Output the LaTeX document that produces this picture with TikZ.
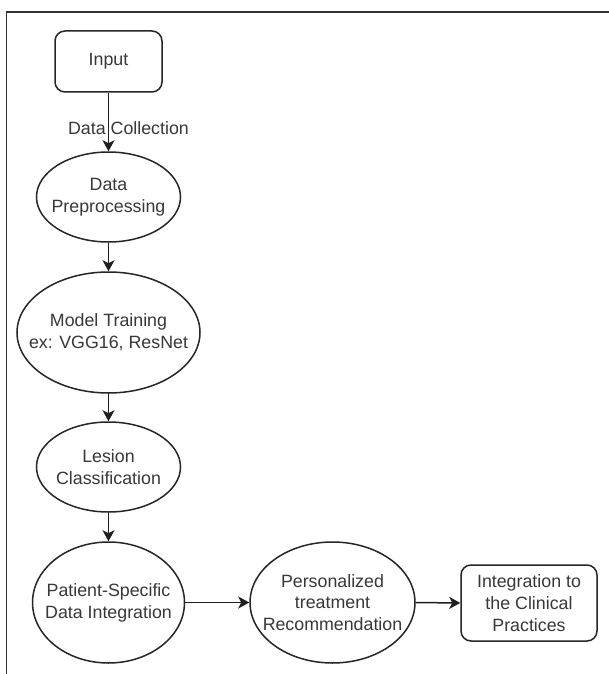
\documentclass[tikz,border=0pt]{standalone}
\usepackage{fontspec}
\setmainfont{Liberation Sans}
\usetikzlibrary{arrows.meta,shapes.geometric}
\begin{document}
\begin{tikzpicture}[x=1pt,y=-1pt,
  every node/.style={font=\fontsize{17.8}{21.8}\selectfont, text=black!78, align=center},
  shapeline/.style={draw=black!85, line width=1.5pt, inner sep=0pt},
  ell/.style={shapeline, ellipse},
  rbox/.style={shapeline, rectangle, rounded corners=10pt},
  lbl/.style={inner sep=0pt},
  arr/.style={draw=black!88, line width=1.5pt, -{Stealth[length=11pt,width=12pt,inset=3pt]}}]
\useasboundingbox (0,0) rectangle (609,674);
\fill[white] (0,0) rectangle (609,674);
\draw[black!80, line width=1.8pt] (609,12) -- (6.5,12) -- (6.5,674);

\node[rbox, minimum width=107pt, minimum height=61pt] (input) at (108.5,61.5) {Input};
\node[ell, minimum width=144pt, minimum height=90pt] (pre) at (108.5,197) {};
\node[lbl] (pret) at (pre) {Data\\Preprocessing};
\node[ell, minimum width=183pt, minimum height=121pt] (model) at (108.5,332.5) {};
\node[lbl] (modelt) at (model) {Model Training\\ex: VGG16, ResNet};
\node[ell, minimum width=144pt, minimum height=90pt] (les) at (108.5,467) {};
\node[lbl] (lest) at (les) {Lesion\\Classification};
\node[ell, minimum width=152pt, minimum height=121pt] (pat) at (108.5,602.5) {};
\node[lbl] (patt) at (pat) {Patient-Specific\\Data Integration};
\node[ell, minimum width=165pt, minimum height=121pt] (pers) at (332.5,602.5) {};
\node[lbl] (perst) at (pers) {Personalized\\treatment\\Recommendation};
\node[rbox, minimum width=136pt, minimum height=76pt] (integ) at (529,603) {Integration to\\the Clinical\\Practices};

\draw[arr] (input.south) -- (pre.north) node[pos=0.6, xshift=20pt, inner sep=0pt] (dc) {Data Collection};
\draw[arr] (pre.south) -- (model.north);
\draw[arr] (model.south) -- (les.north);
\draw[arr] (les.south) -- (pat.north);
\draw[arr] (pat.east) -- (pers.west);
\draw[arr] (pers.east) -- (integ.west);
\end{tikzpicture}
\end{document}
